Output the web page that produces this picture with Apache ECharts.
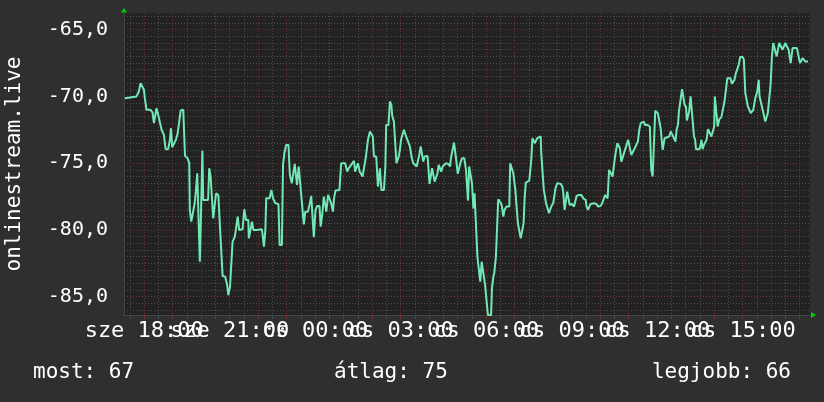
<!DOCTYPE html>
<html>
<head>
<meta charset="utf-8">
<script src="https://cdn.jsdelivr.net/npm/echarts@6/dist/echarts.min.js"></script>
<style>
  html, body { margin: 0; padding: 0; background: #2f2f2f; }
  #chart { width: 824px; height: 402px; }
</style>
</head>
<body>
<div id="chart"></div>
<script>
// hours since wednesday 00:00 (24+ = thursday)
var hours = [
  17.32, 17.38, 17.73, 17.81, 17.87, 17.94, 17.99, 18.02, 18.08, 18.22, 18.29, 18.34, 18.41, 18.43, 18.49, 18.55,
  18.61, 18.69, 18.75, 18.84, 18.90, 18.94, 18.98, 19.04, 19.11, 19.17, 19.23, 19.28, 19.37, 19.43, 19.52, 19.58,
  19.60, 19.65, 19.72, 19.77, 19.81, 19.86, 19.91, 19.95, 19.99, 20.04, 20.07, 20.16, 20.24, 20.28, 20.33, 20.37,
  20.42, 20.48, 20.52, 20.60, 20.66, 20.71, 20.75, 20.84, 20.91, 20.95, 21.01, 21.07, 21.10, 21.18, 21.24, 21.28,
  21.33, 21.38, 21.45, 21.51, 21.57, 21.65, 21.67, 21.74, 21.78, 21.83, 21.94,
  21.99, 22.13, 22.16, 22.20, 22.25, 22.28, 22.40, 22.46, 22.52, 22.60, 22.71, 22.75, 22.83, 22.87, 22.92, 22.98,
  23.06, 23.11, 23.18, 23.25, 23.28, 23.33, 23.36, 23.42, 23.49, 23.53, 23.60, 23.65, 23.74, 23.80, 23.86, 23.92,
  23.95, 24.01, 24.07, 24.15, 24.19, 24.25, 24.30, 24.36, 24.39, 24.45, 24.50, 24.56, 24.62, 24.66, 24.71, 24.85,
  24.91, 25.05, 25.12, 25.17, 25.26, 25.36, 25.40, 25.47, 25.50, 25.56, 25.61, 25.66, 25.73, 25.77, 25.85, 25.92,
  25.97, 26.02, 26.06, 26.14, 26.20, 26.23, 26.27, 26.32, 26.41, 26.46, 26.49, 26.57, 26.62, 26.67, 26.70, 26.76,
  26.81, 26.85,
  26.87, 26.93, 26.97, 27.01, 27.07, 27.11, 27.16, 27.21, 27.28, 27.32, 27.39, 27.44, 27.51, 27.56, 27.60, 27.65,
  27.70, 27.74, 27.79, 27.84, 27.88, 27.94, 27.98, 28.01, 28.07, 28.10, 28.14, 28.19, 28.24, 28.29, 28.33, 28.39,
  28.42, 28.47, 28.53, 28.59, 28.68, 28.73, 28.76, 28.82, 28.87, 28.91, 28.96, 29.00, 29.05, 29.09, 29.15, 29.23,
  29.29, 29.32, 29.36, 29.40, 29.46, 29.50, 29.55, 29.59, 29.64, 29.69, 29.76, 29.79, 29.84, 29.91, 29.96, 29.99,
  30.02, 30.06, 30.17, 30.20, 30.25, 30.28, 30.34, 30.38, 30.42, 30.46, 30.52, 30.55, 30.60, 30.64, 30.71, 30.81,
  30.84, 30.90, 30.95, 30.98, 31.02, 31.07, 31.11, 31.16, 31.21, 31.25, 31.31, 31.35, 31.39, 31.45, 31.51, 31.55,
  31.58, 31.62, 31.66, 31.70,
  31.73, 31.79, 31.85, 31.91, 31.93, 31.99, 32.02, 32.06, 32.10, 32.17, 32.20, 32.24, 32.28, 32.35, 32.40, 32.43,
  32.49, 32.55, 32.61, 32.67, 32.70, 32.75, 32.80, 32.84, 32.89, 32.93, 32.96, 33.02, 33.08, 33.12, 33.17, 33.25,
  33.34, 33.40, 33.45, 33.49, 33.52, 33.57, 33.62, 33.66, 33.78, 33.87, 33.92, 33.97, 34.01, 34.07, 34.13, 34.17,
  34.21, 34.26, 34.31, 34.36, 34.43, 34.48, 34.52, 34.58, 34.60, 34.64, 34.69, 34.74, 34.81, 34.83, 34.87, 34.93,
  34.98, 35.04, 35.09, 35.16, 35.21, 35.28, 35.32, 35.37, 35.42, 35.48, 35.53, 35.57, 35.65, 35.71, 35.74, 35.79,
  35.84, 35.91, 35.93, 35.98, 36.02, 36.07, 36.12, 36.15, 36.19, 36.24, 36.26, 36.33, 36.42, 36.47, 36.52, 36.56,
  36.57, 36.61, 36.64, 36.68, 36.73, 36.76, 36.82, 36.87, 36.91, 36.96, 37.01, 37.04, 37.10, 37.12, 37.17, 37.24,
  37.29, 37.33, 37.36, 37.48, 37.52, 37.55, 37.59, 37.64, 37.69, 37.73, 37.78, 37.84, 37.90, 37.97, 38.00, 38.02,
  38.08, 38.12, 38.18, 38.25, 38.32, 38.36, 38.41, 38.46, 38.57, 38.62, 38.68, 38.71, 38.76, 38.81, 38.86, 38.91,
  39.00, 39.04, 39.09, 39.15, 39.18, 39.23, 39.28, 39.32, 39.37, 39.44, 39.51, 39.56, 39.59, 39.65, 39.70, 39.74,
  39.79, 39.84, 39.88, 39.93, 39.98, 40.02, 40.07, 40.14, 40.19, 40.24, 40.28, 40.35, 40.40, 40.45, 40.49, 40.56,
  40.61, 40.66, 40.68, 40.73, 40.75, 40.90, 40.96, 41.01, 41.05, 41.10, 41.15, 41.19, 41.29
];
var signal = [
  -70.13, -70.0, -70.0, -69.63, -69.0, -68.95, -69.5, -70.13, -71.0, -71.0, -71.2, -72.0, -72.0, -70.88, -71.38, -71.38,
  -72.5, -72.88, -73.95, -73.95, -73.25, -72.38, -73.8, -73.75, -73.25, -72.8, -72.8, -71.05, -71.0, -74.45, -74.63, -75.0,
  -78.5, -79.38, -79.38, -78.0, -77.13, -75.75, -75.75, -82.38, -79.0, -74.05, -77.75, -77.75, -77.75, -75.38, -76.0, -76.0,
  -79.13, -79.13, -77.25, -77.38, -79.88, -80.0, -83.45, -83.5, -84.13, -84.88, -84.25, -84.2, -80.88, -80.5, -80.38, -79.0,
  -80.0, -79.88, -79.95, -78.45, -79.25, -79.25, -80.63, -80.63, -79.38, -80.0, -80.0,
  -79.95, -79.95, -80.5, -81.25, -80.0, -77.63, -77.63, -77.0, -77.63, -78.0, -78.05, -81.13, -81.13, -75.13, -74.2, -73.63,
  -73.63, -75.88, -76.5, -76.5, -75.05, -75.05, -76.63, -75.25, -75.38, -77.88, -79.58, -78.63, -78.63, -78.13, -77.45, -77.45,
  -80.55, -78.5, -78.2, -78.2, -79.75, -78.75, -77.5, -77.45, -78.63, -77.38, -77.38, -78.0, -78.63, -77.63, -77.05, -77.0,
  -75.0, -75.0, -75.63, -75.38, -75.13, -74.83, -75.63, -75.63, -75.0, -75.63, -75.58, -76.0, -76.0, -74.63, -73.25, -72.63,
  -72.63, -73.0, -74.5, -74.5, -76.75, -76.75, -75.38, -77.0, -77.0, -75.25, -72.13, -72.13, -70.38, -70.63, -71.45, -71.88,
  -72.0, -75.0,
  -75.0, -74.5, -74.0, -73.25, -73.13, -72.5, -72.63, -73.13, -73.5, -73.75, -74.63, -75.0, -75.13, -75.25, -75.38, -74.38,
  -73.75, -73.75, -74.88, -74.5, -74.38, -74.45, -75.63, -76.55, -76.55, -75.38, -75.38, -76.38, -76.25, -75.75, -75.13, -75.13,
  -75.63, -75.25, -75.13, -75.0, -75.08, -75.25, -74.63, -74.63, -73.45, -73.5, -75.0, -75.8, -75.8, -75.0, -74.63, -74.63,
  -75.5, -75.5, -77.8, -75.25, -75.25, -76.5, -78.38, -77.25, -77.25, -82.0, -82.0, -83.88, -82.38, -82.38, -84.13, -84.25,
  -85.5, -86.38, -86.38, -84.38, -83.5, -83.25, -82.0, -82.0, -77.7, -77.75, -78.0, -78.25, -79.0, -78.5, -78.25, -78.25,
  -75.0, -75.0, -75.75, -75.75, -77.0, -77.0, -79.5, -79.63, -80.63, -80.63, -79.5, -77.5, -76.45, -76.38, -76.3, -76.25,
  -74.75, -73.13, -73.05, -73.5,
  -73.38, -73.13, -73.0, -73.0, -74.25, -74.38, -77.0, -77.0, -78.0, -78.13, -78.75, -78.75, -78.25, -78.0, -78.0, -76.88,
  -76.5, -76.38, -76.55, -76.75, -77.13, -78.5, -78.5, -77.13, -77.13, -78.13, -78.05, -78.05, -78.25, -78.38, -77.45, -77.38,
  -77.38, -77.63, -77.75, -77.75, -78.25, -78.5, -78.5, -78.05, -78.0, -78.05, -78.25, -78.3, -78.2, -78.0, -78.0, -77.38,
  -77.38, -77.63, -75.5, -75.38, -76.0, -76.0, -74.5, -74.5, -73.5, -73.55, -73.88, -74.88, -75.0, -75.0, -74.0, -73.88,
  -73.25, -73.25, -74.38, -74.38, -73.88, -73.75, -73.38, -72.5, -72.0, -71.88, -71.88, -72.13, -72.13, -72.25, -72.25, -75.5,
  -76.0, -76.0, -71.08, -71.08, -71.25, -71.38, -72.38, -72.38, -74.0, -74.13, -73.13, -73.0, -73.0, -72.63, -72.75, -73.0,
  -72.95, -73.05, -73.38, -72.5, -72.08, -71.13, -71.13, -69.45, -69.45, -70.63, -70.8, -71.8, -71.8, -71.13, -70.0, -70.0,
  -73.0, -73.25, -73.95, -73.95, -73.63, -73.25, -73.95, -73.63, -73.63, -73.25, -72.45, -72.5, -73.0, -72.95, -72.25, -70.0,
  -70.0, -72.25, -71.7, -71.55, -71.55, -70.38, -70.38, -68.63, -68.63, -69.05, -69.13, -68.75, -68.25, -68.2, -67.63, -67.05,
  -67.05, -67.25, -69.75, -69.75, -70.75, -70.8, -71.25, -71.3, -71.0, -70.13, -69.63, -68.75, -70.0, -70.13, -71.0, -71.0,
  -71.88, -71.88, -71.25, -71.13, -69.05, -67.13, -66.0, -66.0, -67.0, -67.05, -66.0, -66.0, -66.5, -66.63, -66.0, -66.0,
  -66.5, -66.63, -67.5, -67.5, -66.38, -66.38, -67.0, -67.5, -67.5, -67.13, -67.13, -67.38, -67.38
];
// x labels every 3 h; split in two sets so neighbours never get auto-hidden
var xLabelHoursA = [18, 24, 30, 36];
var xLabelHoursB = [21, 27, 33, 39];
var yLabelValues = [-85, -80, -75, -70, -65];
var dayNames = ['sze', 'cs'];
var yTitle = 'onlinestream.live';
var footer = ['most: 67', 'átlag: 75', 'legjobb: 66'];

var X_MIN = 17.29, X_MAX = 41.36;
var Y_MIN = -86.37, Y_MAX = -63.75;
var mono = '"DejaVu Sans Mono", "Liberation Mono", monospace';

var hourMajor = [], hourMinor = [];
for (var h = 18; h <= 41; h++) hourMajor.push(h);
for (var h2 = 17.5; h2 <= 41; h2 += 1) hourMinor.push(h2);
var yMinor = [];
for (var v = -86; v <= -64; v += 0.5) { if (v % 5 !== 0) yMinor.push(v); }

function hourLabel(val) {
  var hh = Math.round(val);
  var day = hh >= 24 ? dayNames[1] : dayNames[0];
  var t = hh % 24;
  return day + ' ' + (t < 10 ? '0' + t : t) + ':00';
}

var redGrid = { color: '#6b3434', type: [1, 2], width: 1 };
var greyGrid = { color: '#4e4e4e', type: [1, 2], width: 1 };
var xLabelStyle = {
  formatter: hourLabel, hideOverlap: false, showMinLabel: true, showMaxLabel: true,
  color: '#ffffff', fontFamily: mono, fontSize: 22, margin: 5
};

var chart = echarts.init(document.getElementById('chart'));
chart.setOption({
  backgroundColor: '#2f2f2f',
  animation: false,
  grid: {
    left: 124, right: 14, top: 13, bottom: 87,
    containLabel: false, outerBoundsMode: 'none',
    show: true, backgroundColor: '#222222', borderWidth: 0
  },
  xAxis: [{
    type: 'value', min: X_MIN, max: X_MAX,
    axisLine: { show: true, lineStyle: { color: '#444' } },
    axisTick: { show: true, length: 4, customValues: hourMajor, lineStyle: { color: '#7a3030' } },
    splitLine: { show: true, lineStyle: redGrid },
    axisLabel: Object.assign({ customValues: xLabelHoursA }, xLabelStyle),
    z: 3
  }, {
    type: 'value', min: X_MIN, max: X_MAX, position: 'bottom',
    axisLine: { show: false },
    axisTick: { show: true, length: 4, customValues: hourMinor, lineStyle: { color: '#4e4e4e' } },
    splitLine: { show: true, lineStyle: greyGrid },
    axisLabel: Object.assign({ customValues: xLabelHoursB }, xLabelStyle)
  }],
  yAxis: [{
    type: 'value', min: Y_MIN, max: Y_MAX,
    name: yTitle, nameLocation: 'middle', nameRotate: 90, nameGap: 99,
    nameTextStyle: { color: '#ffffff', fontFamily: mono, fontSize: 21 },
    axisLine: { show: true, lineStyle: { color: '#444' } },
    axisTick: { show: false, customValues: yLabelValues },
    splitLine: { show: true, lineStyle: redGrid },
    axisLabel: {
      customValues: yLabelValues,
      showMinLabel: true, showMaxLabel: true,
      formatter: function (val) { return val.toFixed(1).replace('.', ','); },
      color: '#ffffff', fontFamily: mono, fontSize: 20, margin: 16
    },
    z: 3
  }, {
    type: 'value', min: Y_MIN, max: Y_MAX, position: 'left',
    axisLine: { show: false },
    axisTick: { show: false, customValues: yMinor },
    splitLine: { show: true, lineStyle: greyGrid },
    axisLabel: { show: false }
  }],
  series: [{
    type: 'line',
    xAxisIndex: 0, yAxisIndex: 0,
    data: hours.map(function (t, i) { return [t, signal[i]]; }),
    showSymbol: false,
    lineStyle: { color: '#72e8b6', width: 2 },
    z: 5
  }],
  graphic: [
    { type: 'polygon', shape: { points: [[121, 12.5], [127, 12.5], [124, 8]] }, style: { fill: '#00d000' } },
    { type: 'polygon', shape: { points: [[811, 312], [811, 318], [816, 315]] }, style: { fill: '#00d000' } },
    { type: 'text', left: 33, top: 362, style: { text: footer[0], fill: '#ffffff', font: '21px ' + mono } },
    { type: 'text', left: 334, top: 362, style: { text: footer[1], fill: '#ffffff', font: '21px ' + mono } },
    { type: 'text', right: 33, top: 362, style: { text: footer[2], fill: '#ffffff', font: '21px ' + mono } }
  ]
});
</script>
</body>
</html>
